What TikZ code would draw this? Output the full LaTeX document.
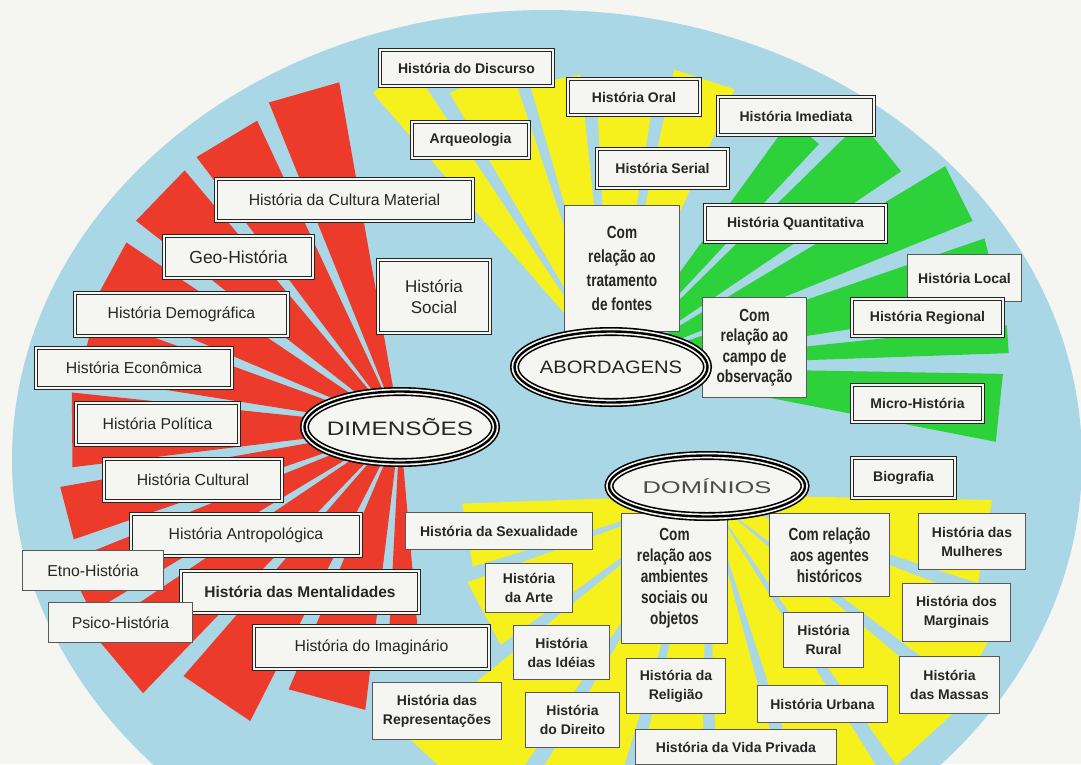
\documentclass[tikz,border=0pt]{standalone}
\usepackage{fontspec}
\setmainfont{Liberation Sans}
\newfontfamily\narrowfont[FakeStretch=0.78]{Liberation Sans}
\newfontfamily\dimfont[FakeStretch=1.25]{Liberation Sans}
\newfontfamily\abofont[FakeStretch=1.12]{Liberation Sans}
\newfontfamily\domfont[FakeStretch=1.5]{Liberation Sans}
\usetikzlibrary{shapes.geometric}

\definecolor{paper}{HTML}{F5F5F2}
\definecolor{sky}{HTML}{A9D7E6}
\definecolor{rayred}{HTML}{EC3B2B}
\definecolor{rayyellow}{HTML}{F6F11C}
\definecolor{raygreen}{HTML}{2DD23A}
\definecolor{ink}{HTML}{262626}

\tikzset{
  wh/.style 2 args={minimum width=#1pt, minimum height=#2pt},
  dbox/.style={rectangle, draw=ink, line width=1.6pt, double=paper, double distance=1.4pt,
    fill=paper, inner sep=0pt, align=center, text=ink},
  tbox/.style={rectangle, draw=black!65, line width=0.9pt, fill=paper, inner sep=0pt,
    align=center, text=ink},
  hub/.style={ellipse, draw=black, line width=9pt, fill=paper, inner sep=0pt, text=ink,
    postaction={draw=paper, line width=5.8pt}, postaction={draw=black, line width=2.4pt}},
  dimtext/.style={font=\fontsize{15.8}{19}\selectfont},
  abotext/.style={font=\bfseries\fontsize{14}{17}\selectfont},
  domtext/.style={font=\bfseries\fontsize{14}{19}\selectfont},
  narrowtext/.style={font=\narrowfont\bfseries\fontsize{17.5}{21}\selectfont},
}

\begin{document}
\begin{tikzpicture}[x=1pt, y=-1pt]
  \useasboundingbox (0,0) rectangle (1081,764);
  \clip (0,0) rectangle (1081,764);
  \fill[paper] (0,0) rectangle (1081,764);

  \coordinate (dimc) at (400,427);
  \coordinate (aboc) at (611,367);
  \coordinate (domc) at (707,495);

  \fill[sky] (547,460) ellipse [x radius=535, y radius=450];

  \begin{scope}
    \clip (547,460) ellipse [x radius=535, y radius=450];
    \foreach \a/\b/\r in {1/18/285, 21/37/320, 40/55/330, 58/72/330, 75/88/330, 91/104/330,
        107/121/340, 124/141/385, 144/160/255, 163/178/245}
      \fill[rayyellow, shift={(domc)}] (0,0) -- (\a:\r) -- (\b:\r) -- cycle;
    \foreach \a/\b/\r in {229/236.5/363, 239.5/251.5/318, 254/264/294, 267/279/289, 282/294/304}
      \fill[rayyellow, shift={(aboc)}] (0,0) -- (\a:\r) -- (\b:\r) -- cycle;
    \foreach \a/\b/\r in {306/313/305, 315.5/326/350, 329/338/390, 341/351/395, 354/358/398,
        361/371/392}
      \fill[raygreen, shift={(aboc)}] (0,0) -- (\a:\r) -- (\b:\r) -- cycle;
    \foreach \a/\b/\r in {85/93/200, 97/113/285, 117/131/330, 134/146/370, 149/158/360,
        161/170/345, 173/186/330, 189/200/325, 203/214/330, 218/230/335, 233/245/338, 248/260/350}
      \fill[rayred, shift={(dimc)}] (0,0) -- (\a:\r) -- (\b:\r) -- cycle;
  \end{scope}

  % dimensoes
  \node[dbox, dimtext, wh={257}{42}] (cultmat) at (344.5,200) {História da Cultura Material};
  \node[dbox, wh={149}{42}, font=\fontsize{17.5}{20}\selectfont] (geo) at (238.5,257) {Geo-História};
  \node[dbox, wh={112}{73}, font=\fontsize{17}{21}\selectfont] (social) at (434,296.5) {História\\Social};
  \node[dbox, dimtext, wh={213}{43}] (demog) at (181.5,314.5) {História Demográfica};
  \node[dbox, dimtext, wh={196}{40}] (econ) at (134,368) {História Econômica};
  \node[dbox, dimtext, wh={163}{42}] (polit) at (157.5,424) {História Política};
  \node[dbox, dimtext, wh={178}{42}] (cultural) at (193,480) {História Cultural};
  \node[dbox, dimtext, wh={230}{42}] (antrop) at (246,535) {História Antropológica};
  \node[tbox, dimtext, wh={141}{40}] (etno) at (93,570.5) {Etno-História};
  \node[dbox, wh={238}{42}, font=\bfseries\fontsize{15.5}{19}\selectfont] (mental) at (300,592) {História das Mentalidades};
  \node[tbox, dimtext, wh={144}{40}] (psico) at (120.5,622.5) {Psico-História};
  \node[dbox, dimtext, wh={235}{43}] (imagin) at (371.5,647.5) {História do Imaginário};
  \node[tbox, domtext, wh={129}{57}] (repres) at (437,711) {História das\\Representações};

  % abordagens
  \node[dbox, abotext, wh={173}{36}] (discurso) at (466.5,68) {História do Discurso};
  \node[dbox, abotext, wh={117}{36}] (arqueo) at (470.5,140) {Arqueologia};
  \node[dbox, abotext, wh={132}{36}] (oral) at (634,97) {História Oral};
  \node[dbox, abotext, wh={156}{38}] (imediata) at (796,116) {História Imediata};
  \node[dbox, abotext, wh={131}{39}] (serial) at (662.5,168.5) {História Serial};
  \node[tbox, wh={115}{126}, narrowtext, font=\narrowfont\bfseries\fontsize{17.5}{24}\selectfont] (fontes) at (622,268) {Com\\relação ao\\tratamento\\de fontes};
  \node[dbox, abotext, wh={181}{37}] (quantit) at (795.5,223.5) {História Quantitativa};
  \node[tbox, abotext, wh={114}{47}] (local) at (964.5,278) {História Local};
  \node[dbox, abotext, wh={151}{37}] (regional) at (927.5,317.5) {História Regional};
  \node[tbox, narrowtext, wh={104}{100}, font=\narrowfont\bfseries\fontsize{17.5}{20.5}\selectfont] (campo) at (754.5,347.5) {Com\\relação ao\\campo de\\observação};
  \node[dbox, abotext, wh={131}{37}] (micro) at (917.5,403.5) {Micro-História};
  \node[dbox, abotext, wh={103}{40}] (biografia) at (903.5,478) {Biografia};

  % dominios
  \node[tbox, domtext, wh={187}{37}] (sexual) at (499,531) {História da Sexualidade};
  \node[tbox, domtext, wh={87}{49}] (arte) at (529,588) {História\\da Arte};
  \node[tbox, domtext, wh={96}{54}] (ideias) at (561.5,652.5) {História\\das Idéias};
  \node[tbox, domtext, wh={94}{55}] (direito) at (572.5,720) {História\\do Direito};
  \node[tbox, narrowtext, wh={106}{130}] (ambient) at (674.5,578.5) {Com\\relação aos\\ambientes\\sociais ou\\objetos};
  \node[tbox, domtext, wh={99}{55}] (religiao) at (676,686) {História da\\Religião};
  \node[tbox, domtext, wh={201}{35}] (vida) at (736,747) {História da Vida Privada};
  \node[tbox, domtext, wh={130}{37}] (urbana) at (822.5,704) {História Urbana};
  \node[tbox, domtext, wh={80}{55}] (rural) at (823.5,640) {História\\Rural};
  \node[tbox, narrowtext, wh={120}{83}] (agentes) at (829.5,555) {Com relação\\aos agentes\\históricos};
  \node[tbox, domtext, wh={107}{56}] (mulheres) at (972,541.5) {História das\\Mulheres};
  \node[tbox, domtext, wh={108}{58}] (marginais) at (956.5,612.5) {História dos\\Marginais};
  \node[tbox, domtext, wh={100}{57}] (massas) at (949.5,685) {História\\das Massas};

  % hubs
  \node[hub, wh={191}{71}, font=\dimfont\fontsize{19.5}{20}\selectfont] (dim) at (dimc) {\makebox[0pt]{DIMENSÕES}};
  \node[hub, wh={193}{71}, font=\abofont\fontsize{18}{20}\selectfont] (abo) at (aboc) {\makebox[0pt]{ABORDAGENS}};
  \node[hub, wh={196}{61}, text=black!70, font=\domfont\fontsize{17}{20}\selectfont] (dom) at (707,486) {\makebox[0pt]{DOMÍNIOS}};
\end{tikzpicture}
\end{document}
